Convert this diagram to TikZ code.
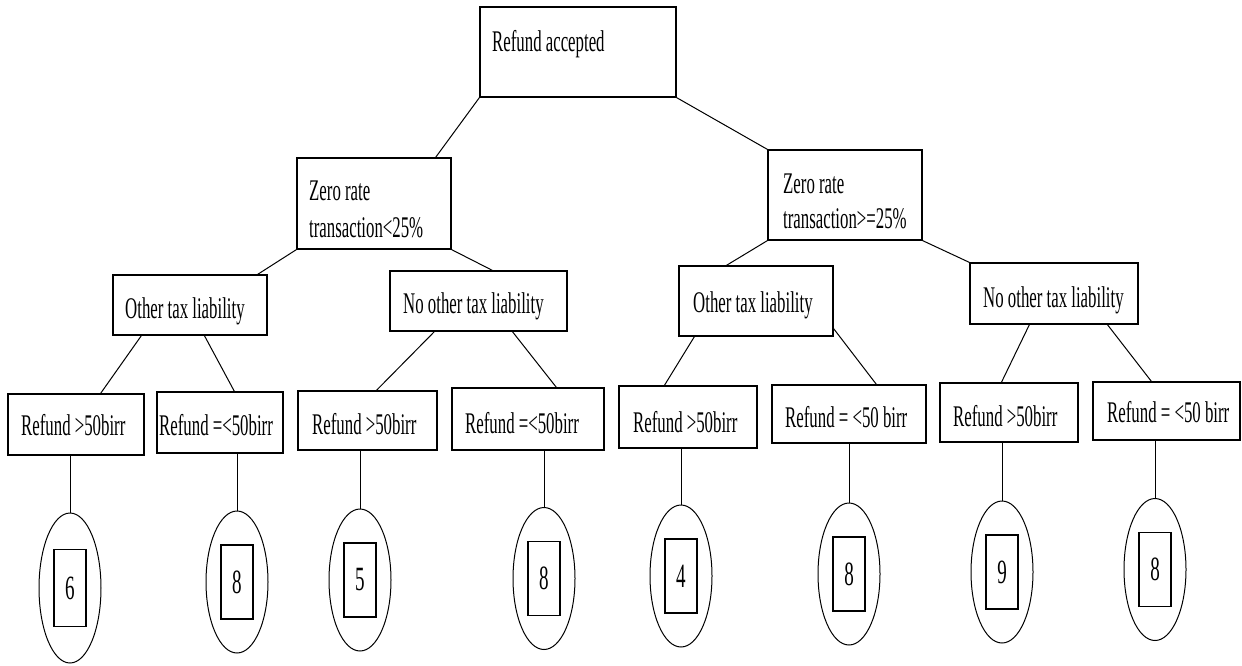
\documentclass[tikz,border=0pt]{standalone}
\usepackage{fontspec}
\setmainfont{Liberation Serif}[FakeStretch=0.56]
\usetikzlibrary{shapes.geometric}
\begin{document}
\begin{tikzpicture}[x=1pt,y=-1pt,
  box/.style={draw, line width=1.2pt, inner sep=0pt},
  txt/.style={anchor=base west, inner sep=0pt, font=\fontsize{30}{36}\selectfont},
  link/.style={line width=1pt},
  leaf/.style={draw, ellipse, line width=1pt, minimum width=62pt, minimum height=142pt, inner sep=0pt},
  num/.style={draw, line width=1.2pt, minimum width=32pt, minimum height=74pt, inner sep=0pt, font=\fontsize{34}{40}\selectfont}]
\useasboundingbox (0,0) rectangle (1242,665);
% level 0
\node[box, minimum width=196pt, minimum height=90pt] (b0) at (578,52) {};
\node[txt] (t0) at (492,51) {Refund accepted};
% level 1
\node[box, minimum width=154pt, minimum height=91pt] (bL) at (374,203.5) {};
\node[txt] (tL) at (309,200) {\vtop{\baselineskip=37pt\hbox{Zero rate}\hbox{transaction<25\%}}};
\node[box, minimum width=154pt, minimum height=90pt] (bR) at (845,195) {};
\node[txt] (tR) at (783,193) {\vtop{\baselineskip=35pt\hbox{Zero rate}\hbox{transaction>=25\%}}};
% level 2
\node[box, minimum width=154pt, minimum height=60pt] (c1) at (190,305) {};
\node[txt] (tc1) at (125,318) {Other tax liability};
\node[box, minimum width=177pt, minimum height=60pt] (c2) at (478.5,301) {};
\node[txt] (tc2) at (403,313) {No other tax liability};
\node[box, minimum width=154pt, minimum height=70pt] (c3) at (756,301) {};
\node[txt] (tc3) at (693,312) {Other tax liability};
\node[box, minimum width=168pt, minimum height=61pt] (c4) at (1054,293.5) {};
\node[txt] (tc4) at (983,307) {No other tax liability};
% level 3
\node[box, minimum width=136pt, minimum height=61pt] (d1) at (76,424.5) {};
\node[txt] (td1) at (21,435) {Refund >50birr};
\node[box, minimum width=126pt, minimum height=61pt] (d2) at (220,422.5) {};
\node[txt] (td2) at (159,435) {Refund =<50birr};
\node[box, minimum width=139pt, minimum height=59pt] (d3) at (367.5,420.5) {};
\node[txt] (td3) at (312,434) {Refund >50birr};
\node[box, minimum width=152pt, minimum height=62pt] (d4) at (528,419) {};
\node[txt] (td4) at (465,433) {Refund =<50birr};
\node[box, minimum width=138pt, minimum height=62pt] (d5) at (688,417) {};
\node[txt] (td5) at (633,432) {Refund >50birr};
\node[box, minimum width=154pt, minimum height=58pt] (d6) at (849,414) {};
\node[txt] (td6) at (785,427) {Refund = <50 birr};
\node[box, minimum width=138pt, minimum height=59pt] (d7) at (1009,412.5) {};
\node[txt] (td7) at (953,426) {Refund >50birr};
\node[box, minimum width=147pt, minimum height=58pt] (d8) at (1166.5,411) {};
\node[txt] (td8) at (1107,422) {Refund = <50 birr};
% leaves
\node[leaf, minimum height=150pt] (e1) at (70,588) {};
\node[leaf] (e2) at (237,582) {};
\node[leaf] (e3) at (360,580) {};
\node[leaf] (e4) at (544,578.5) {};
\node[leaf] (e5) at (681,576) {};
\node[leaf] (e6) at (849,574) {};
\node[leaf] (e7) at (1002,572) {};
\node[leaf] (e8) at (1155,569.5) {};
\node[num, minimum height=77pt] (f1) at (e1.center) {6};
\node[num] (f2) at (e2.center) {8};
\node[num] (f3) at (e3.center) {5};
\node[num] (f4) at (e4.center) {8};
\node[num] (f5) at (e5.center) {4};
\node[num] (f6) at (e6.center) {8};
\node[num] (f7) at (e7.center) {9};
\node[num] (f8) at (e8.center) {8};
% connectors
\draw[link] (b0.south west) -- ([xshift=-16pt]bL.north east);
\draw[link] (b0.south east) -- (bR.north west);
\draw[link] (bL.south west) -- ([xshift=-10pt]c1.north east);
\draw[link] (bL.south east) -- ([xshift=103pt]c2.north west);
\draw[link] (bR.south west) -- ([xshift=48pt]c3.north west);
\draw[link] (bR.south east) -- (c4.north west);
\draw[link] ([xshift=29pt]c1.south west) -- ([xshift=-44pt]d1.north east);
\draw[link] ([xshift=92pt]c1.south west) -- ([xshift=78pt]d2.north west);
\draw[link] ([xshift=45pt]c2.south west) -- ([xshift=79pt]d3.north west);
\draw[link] ([xshift=123pt]c2.south west) -- ([xshift=105pt]d4.north west);
\draw[link] ([xshift=16pt]c3.south west) -- ([xshift=46pt]d5.north west);
\draw[link] ([yshift=8pt]c3.south east) -- ([xshift=105pt]d6.north west);
\draw[link] ([xshift=60pt]c4.south west) -- ([xshift=62pt]d7.north west);
\draw[link] ([xshift=138pt]c4.south west) -- ([xshift=59pt]d8.north west);
\foreach \i in {1,...,8}{\draw[link] (d\i.south -| e\i.north) -- (e\i.north);}
\end{tikzpicture}
\end{document}
